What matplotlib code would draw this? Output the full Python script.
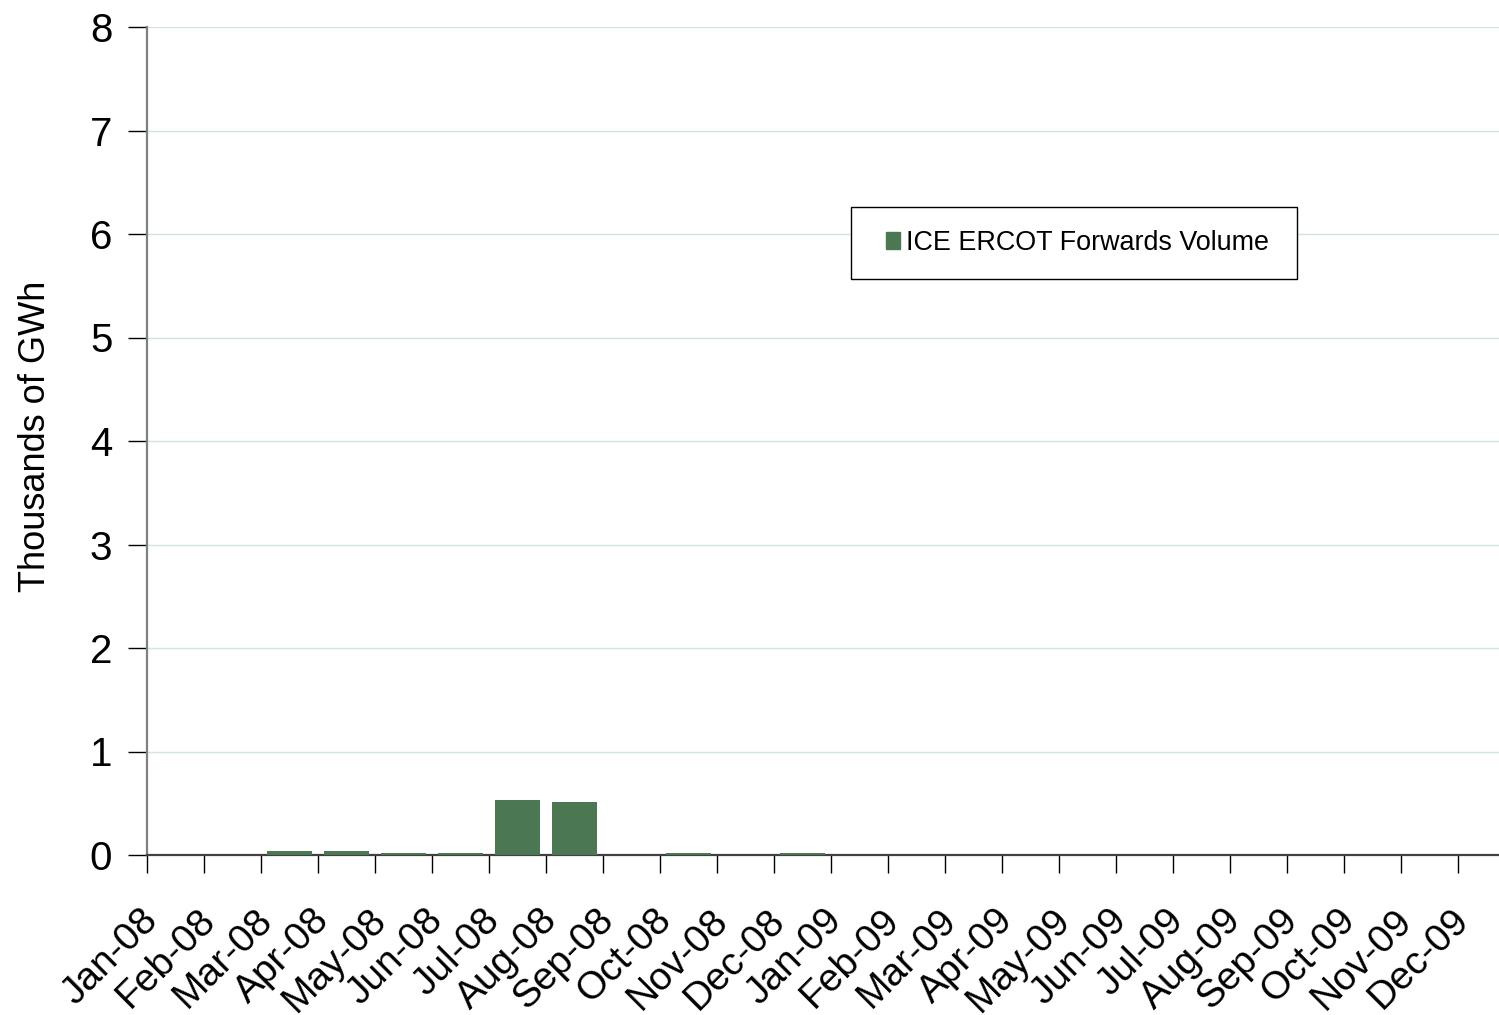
import matplotlib
matplotlib.use("Agg")
import matplotlib.pyplot as plt
import matplotlib.patches as mpatches
import matplotlib.transforms as mtransforms
import numpy as np

plt.rcParams['font.family'] = ['Liberation Sans', 'DejaVu Sans']

months = ['Jan-08', 'Feb-08', 'Mar-08', 'Apr-08', 'May-08', 'Jun-08',
          'Jul-08', 'Aug-08', 'Sep-08', 'Oct-08', 'Nov-08', 'Dec-08',
          'Jan-09', 'Feb-09', 'Mar-09', 'Apr-09', 'May-09', 'Jun-09',
          'Jul-09', 'Aug-09', 'Sep-09', 'Oct-09', 'Nov-09', 'Dec-09']
volume = [0, 0, 0.04, 0.04, 0.015, 0.015, 0.53, 0.51, 0, 0.015, 0, 0.015,
          0, 0, 0, 0, 0, 0, 0, 0, 0, 0, 0, 0]
yticks = [0, 1, 2, 3, 4, 5, 6, 7, 8]
series_name = 'ICE ERCOT Forwards Volume'
bar_color = '#4b7752'

fig = plt.figure(figsize=(14.99, 10.15), dpi=100)
W, H = 1499, 1015
left, right, top, bottom = 147, 1515, 27, 855
ax = fig.add_axes([left / W, (H - bottom) / H, (right - left) / W, (bottom - top) / H])

x = np.arange(len(months))
ax.bar(x, volume, width=0.79, color=bar_color, zorder=3)

ax.set_xlim(-0.5, len(months) - 0.5)
ax.set_ylim(0, 8)
ax.set_yticks(yticks)
ax.set_yticklabels([str(v) for v in yticks], fontsize=29)
ax.yaxis.grid(True, color='#d2e3e4', linewidth=1, zorder=0)
ax.set_axisbelow(True)

ax.set_xticks(x - 0.5)
ax.set_xticklabels(months, rotation=45, ha='right', va='center',
                   rotation_mode='anchor', fontsize=28)
ax.tick_params(axis='x', length=13, width=1, color='black', pad=30)
ax.tick_params(axis='y', length=14, width=1, color='black', pad=11)
offset = mtransforms.ScaledTranslation(4 / 72, 0, fig.dpi_scale_trans)
for lbl in ax.get_xticklabels():
    lbl.set_transform(lbl.get_transform() + offset)

for s in ['top', 'right']:
    ax.spines[s].set_visible(False)
ax.spines['left'].set_color('#808080')
ax.spines['left'].set_linewidth(1.6)
ax.spines['bottom'].set_color('#404040')
ax.spines['bottom'].set_linewidth(1.6)

ax.set_ylabel('Thousands of GWh', fontsize=26)
ax.yaxis.set_label_coords(-0.069, 0.506)

# legend frame
bx0, bx1, by0, by1 = 851, 1297, 279, 207
def ax_x(px):
    return (px - left) / (right - left)
def ax_y(py):
    return (bottom - py) / (bottom - top)
rect = mpatches.Rectangle((ax_x(bx0), ax_y(by0)), ax_x(bx1) - ax_x(bx0), ax_y(by1) - ax_y(by0),
                          transform=ax.transAxes, facecolor='white', edgecolor='black',
                          linewidth=1.0, zorder=5)
ax.add_patch(rect)
handle = mpatches.Patch(color=bar_color, label=series_name)
leg = ax.legend(handles=[handle], loc='center',
                bbox_to_anchor=((ax_x(bx0) + ax_x(bx1)) / 2 + 0.0025, (ax_y(by0) + ax_y(by1)) / 2),
                frameon=False, fontsize=19.4, handlelength=0.55, handleheight=0.55,
                handletextpad=0.22, borderpad=0)
leg.set_zorder(6)

fig.savefig('out.png', dpi=100)
